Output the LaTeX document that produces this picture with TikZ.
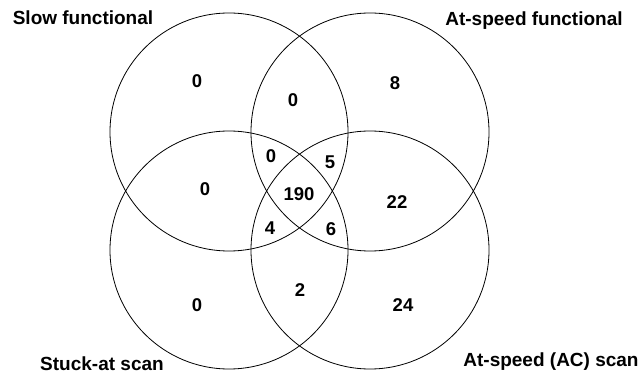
\documentclass[tikz,border=0pt]{standalone}
\usepackage{fontspec}
\setmainfont{Liberation Sans}
\begin{document}
\begin{tikzpicture}[x=1pt,y=-1pt,
  setcircle/.style={circle,draw=black,line width=0.8pt,minimum size=238pt,inner sep=0pt},
  count/.style={font=\fontsize{18.5}{20}\selectfont\bfseries,inner sep=0pt},
  setname/.style={font=\fontsize{19}{20}\selectfont\bfseries,inner sep=0pt,anchor=base}]
\useasboundingbox (0,0) rectangle (640,374);
% the four sets
\node[setcircle] (slow) at (229,132) {};
\node[setcircle] (atf)  at (370,132) {};
\node[setcircle] (stk)  at (229,250) {};
\node[setcircle] (ac)   at (370,250) {};
% set names
\node[setname] (lslow) at (83,25)  {Slow functional};
\node[setname] (latf)  at (534,26) {At-speed functional};
\node[setname] (lstk)  at (102,370.5) {Stuck-at scan};
\node[setname] (lac)   at (551,366) {At-speed (AC) scan};
% region counts
\node[count] (n1)  at (197,81)  {0};
\node[count] (n2)  at (293,100) {0};
\node[count] (n3)  at (395,83)  {8};
\node[count] (n4)  at (271,156) {0};
\node[count] (n5)  at (330,162) {5};
\node[count] (n6)  at (205,189) {0};
\node[count] (n7)  at (299,194) {190};
\node[count] (n8)  at (397,202) {22};
\node[count] (n9)  at (270,228) {4};
\node[count] (n10) at (331,229) {6};
\node[count] (n11) at (197,305) {0};
\node[count] (n12) at (300,290) {2};
\node[count] (n13) at (403,305) {24};
\end{tikzpicture}
\end{document}
